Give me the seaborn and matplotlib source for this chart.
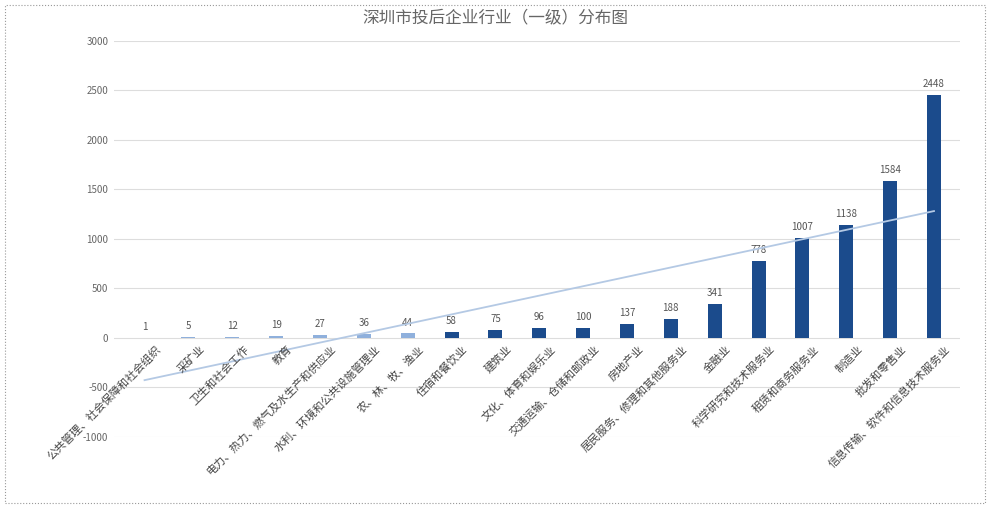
import numpy as np
import pandas as pd
import matplotlib
matplotlib.use("Agg")
import matplotlib.pyplot as plt
import seaborn as sns
from matplotlib.patches import Rectangle

plt.rcParams["font.family"] = "Noto Sans CJK SC"

categories = ["公共管理、社会保障和社会组织", "采矿业", "卫生和社会工作", "教育",
              "电力、热力、燃气及水生产和供应业", "水利、环境和公共设施管理业", "农、林、牧、渔业",
              "住宿和餐饮业", "建筑业", "文化、体育和娱乐业", "交通运输、仓储和邮政业", "房地产业",
              "居民服务、修理和其他服务业", "金融业", "科学研究和技术服务业", "租赁和商务服务业",
              "制造业", "批发和零售业", "信息传输、软件和信息技术服务业"]
values = [1, 5, 12, 19, 27, 36, 44, 58, 75, 96, 100, 137, 188, 341, 778, 1007, 1138, 1584, 2448]
yticks = [-1000, -500, 0, 500, 1000, 1500, 2000, 2500, 3000]

light, dark = "#8fb0dc", "#1b4b8c"
colors = [light] * 7 + [dark] * (len(values) - 7)
df = pd.DataFrame({"cat": categories, "val": values})

fig = plt.figure(figsize=(9.9, 5.08), dpi=100)
ax = fig.add_axes([0.115, 0.14, 0.855, 0.78])
sns.barplot(data=df, x="cat", y="val", hue="cat", palette=colors, legend=False,
            width=0.32, ax=ax, zorder=3, saturation=1)
x = np.arange(len(values))
k, b = np.polyfit(x, values, 1)
ax.plot(x, k * x + b, color="#b4c9e4", lw=1.3, zorder=4)
for i, v in enumerate(values):
    ax.text(i, max(v, 0) + 60, str(v), ha="center", va="bottom", fontsize=7, color="#555555")
    ax.text(i + 0.25, -60, categories[i], rotation=45, ha="right", va="top",
            rotation_mode="anchor", fontsize=8, color="#444444", zorder=5)
ax.set_ylim(-1000, 3000)
ax.set_yticks(yticks)
ax.set_yticklabels([str(t) for t in yticks], fontsize=7, color="#666666")
ax.set_xlim(-0.7, len(values) - 0.4)
ax.set_xticks(x)
ax.set_xticklabels([])
ax.tick_params(length=0, pad=4)
ax.grid(axis="y", color="#dddddd", lw=0.8, zorder=0)
for s in ax.spines.values():
    s.set_visible(False)
ax.set_xlabel("")
ax.set_ylabel("")
fig.text(0.5, 0.965, "深圳市投后企业行业（一级）分布图", ha="center", va="center",
         fontsize=12, color="#666666")
fig.patches.append(Rectangle((0.005, 0.01), 0.99, 0.98, transform=fig.transFigure,
                             fill=False, ls=":", lw=0.8, ec="#999999"))
fig.savefig("out.png", dpi=100)
